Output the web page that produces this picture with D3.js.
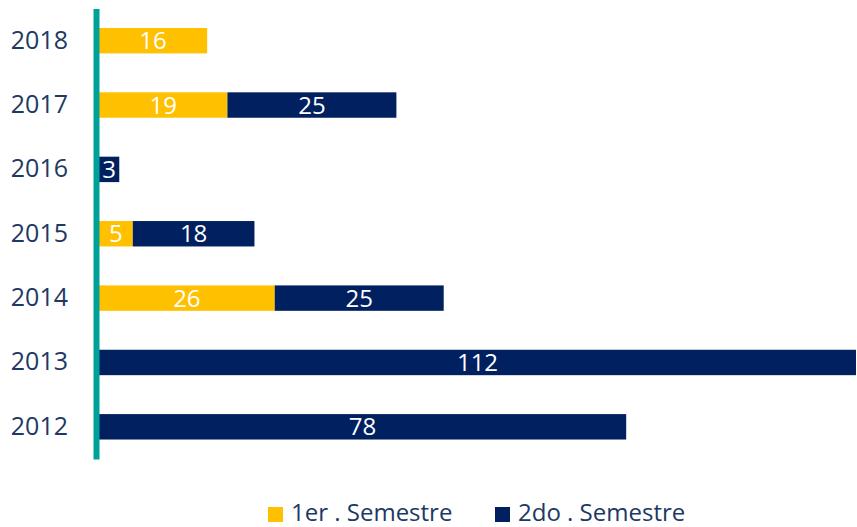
<!DOCTYPE html>
<html>
<head>
<meta charset="utf-8">
<script src="https://cdn.jsdelivr.net/npm/d3@7"></script>
<style>
  html, body { margin: 0; padding: 0; background: #fff; }
  svg { display: block; font-family: 'Open Sans', 'Noto Sans', sans-serif; }
</style>
</head>
<body>
<svg id="chart"></svg>
<script>
// values
const years = ['2018', '2017', '2016', '2015', '2014', '2013', '2012']
const sem1 = [16, 19, 0, 5, 26, 0, 0]
const sem2 = [0, 25, 3, 18, 25, 112, 78]
const seriesNames = ['1er . Semestre', '2do . Semestre']

const w = 857
const h = 527
const colors = ['#FFC000', '#002060']
const textColor = '#203864'

let svg = d3.select('#chart')
            .attr('width', w)
            .attr('height', h)

let xScale = d3.scaleLinear()
               .domain([0, 112])
               .range([99, 856])

let yScale = d3.scaleBand()
               .domain(years)
               .range([8.5, 459])
               .paddingInner(0.605)
               .paddingOuter(0.3025)

// build stacked rows
let rows = years.map((y, i) => ({ year: y, s1: sem1[i], s2: sem2[i] }))
let stack = d3.stack().keys(['s1', 's2'])(rows)

stack.forEach((layer, li) => {
    let g = svg.append('g')
    g.selectAll('rect')
     .data(layer)
     .enter()
     .append('rect')
     .attr('x', d => xScale(d[0]))
     .attr('y', d => yScale(d.data.year))
     .attr('width', d => xScale(d[1]) - xScale(d[0]))
     .attr('height', yScale.bandwidth())
     .attr('fill', colors[li])

    g.selectAll('text')
     .data(layer.filter(d => d[1] - d[0] > 0))
     .enter()
     .append('text')
     .attr('x', d => (xScale(d[0]) + xScale(d[1])) / 2)
     .attr('y', d => yScale(d.data.year) + yScale.bandwidth() / 2)
     .attr('dy', '0.36em')
     .attr('text-anchor', 'middle')
     .attr('fill', '#fff')
     .style('font-size', '24px')
     .text(d => d[1] - d[0])
})

// y axis with year labels
let yAxis = d3.axisLeft(yScale).tickSize(0).tickPadding(28)
let axisG = svg.append('g')
               .attr('transform', 'translate(96, 0)')
               .call(yAxis)
axisG.select('.domain')
     .attr('stroke', '#00A19A')
     .attr('stroke-width', 6)
axisG.selectAll('text')
     .attr('fill', textColor)
     .style('font-size', '25px')
     .style('font-family', "'Open Sans', 'Noto Sans', sans-serif")

// legend
let legendX = [268, 495]
let legend = svg.append('g')
seriesNames.forEach((name, i) => {
    legend.append('rect')
          .attr('x', legendX[i])
          .attr('y', 507)
          .attr('width', 15)
          .attr('height', 15)
          .attr('fill', colors[i])
    legend.append('text')
          .attr('x', legendX[i] + 23)
          .attr('y', 521)
          .attr('fill', textColor)
          .style('font-size', '24px')
          .text(name)
})
</script>
</body>
</html>
